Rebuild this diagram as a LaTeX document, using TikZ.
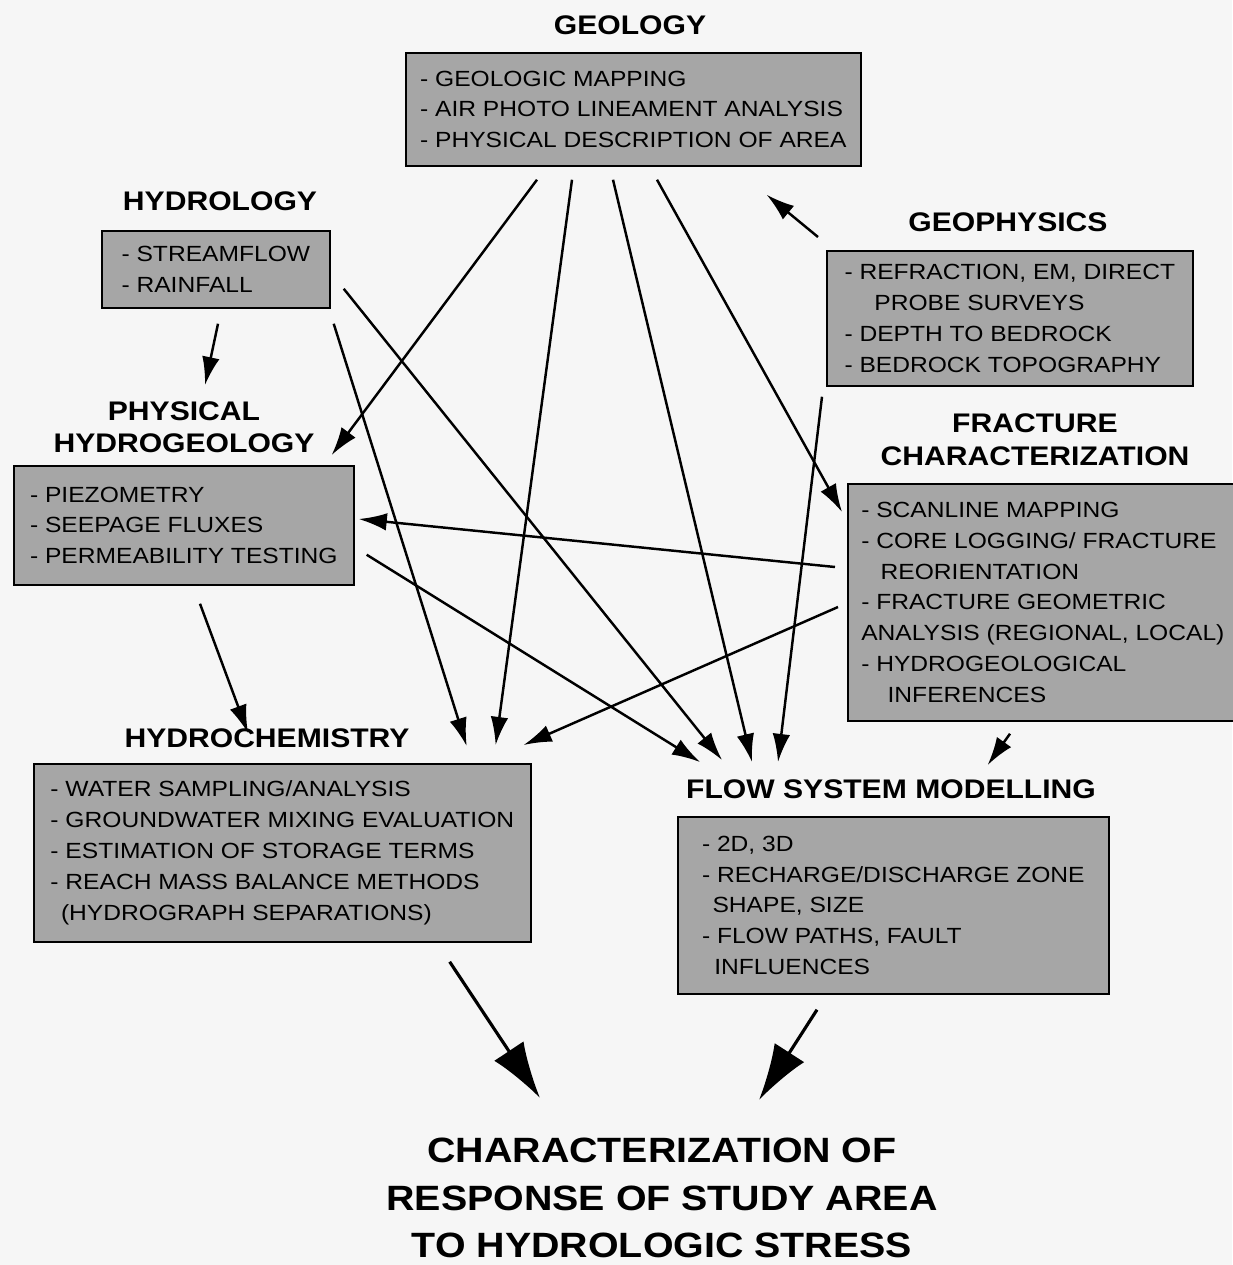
\documentclass[tikz,border=0pt]{standalone}
\usepackage{fontspec}
\setmainfont{Liberation Sans}[FakeStretch=1.12]
\usetikzlibrary{arrows.meta,calc}
\definecolor{boxgrey}{gray}{0.65}
\definecolor{paper}{gray}{0.965}
\newcommand{\boxfont}{\fontsize{12.5}{17.6}\selectfont}
\newcommand{\headfont}{\fontsize{15.3}{18}\selectfont\bfseries}

\tikzset{
  infobox/.style={draw, line width=1pt, fill=boxgrey, anchor=north west, align=left, font=\boxfont, inner sep=0pt},
  heading/.style={align=center, font=\headfont, inner sep=0pt},
  link/.style={->, line width=1.4pt},
  bigarrow/.style={-{Latex[length=32pt,width=20pt]}, line width=1.8pt}
}

\begin{document}
\begin{tikzpicture}[x=0.02cm, y=-0.02cm, >={Latex[length=16pt,width=10pt]}]%[auto]

\fill [paper] (0,0) rectangle (1232,1265);
\useasboundingbox (0,0) rectangle (1232,1265);

\node [heading] (geoT) at (630,25) {GEOLOGY};
\node [infobox, minimum width=9.10cm, minimum height=2.26cm] (geo) at (405,52) {
- GEOLOGIC MAPPING\\ - AIR PHOTO LINEAMENT ANALYSIS\\ - PHYSICAL DESCRIPTION OF AREA};

\node [heading] (hydT) at (220,201) {HYDROLOGY};
\node [infobox, minimum width=4.56cm, minimum height=1.54cm] (hyd) at (101,230) {
- STREAMFLOW\\ - RAINFALL};

\node [heading] (gphT) at (1008,222) {GEOPHYSICS};
\node [infobox, minimum width=7.32cm, minimum height=2.70cm] (gph) at (826,250) {
- REFRACTION, EM, DIRECT\\ \hspace*{17pt}PROBE SURVEYS\\ - DEPTH TO BEDROCK\\ - BEDROCK TOPOGRAPHY};

\node [heading] (physT) at (184,427) {PHYSICAL\\ HYDROGEOLOGY};
\node [infobox, minimum width=6.80cm, minimum height=2.38cm] (phys) at (13,465) {
- PIEZOMETRY\\ - SEEPAGE FLUXES\\ - PERMEABILITY TESTING};

\node [heading, font=\fontsize{15.3}{19}\selectfont\bfseries] (fracT) at (1035,440) {FRACTURE\\ CHARACTERIZATION};
\node [infobox, minimum width=7.80cm, minimum height=4.74cm] (frac) at (847,483) {
- SCANLINE MAPPING\\ - CORE LOGGING/ FRACTURE\\ \hspace*{11pt}REORIENTATION\\ - FRACTURE GEOMETRIC\\
ANALYSIS (REGIONAL, LOCAL)\\ - HYDROGEOLOGICAL\\ \hspace*{15pt}INFERENCES};

\node [heading] (chemT) at (267,738) {HYDROCHEMISTRY};
\node [infobox, minimum width=9.94cm, minimum height=3.56cm] (chem) at (33,763) {
- WATER SAMPLING/ANALYSIS\\ - GROUNDWATER MIXING EVALUATION\\ - ESTIMATION OF STORAGE TERMS\\
- REACH MASS BALANCE METHODS\\ \hspace*{6pt}(HYDROGRAPH SEPARATIONS)};

\node [heading] (flowT) at (891,789) {FLOW SYSTEM MODELLING};
\node [infobox, minimum width=8.62cm, minimum height=3.54cm] (flow) at (677,816) {
- 2D, 3D\\ - RECHARGE/DISCHARGE ZONE\\ \hspace*{6pt}SHAPE, SIZE\\ - FLOW PATHS, FAULT\\ \hspace*{7pt}INFLUENCES};

\node [heading, font=\fontsize{20}{27}\selectfont\bfseries] (final) at (662,1198) {
CHARACTERIZATION OF\\ RESPONSE OF STUDY AREA\\ TO HYDROLOGIC STRESS};

% geology
\draw [link] ($(geo.south west)+(132,13)$) -- ($(phys.north east)+(-23,-10)$);
\draw [link] ($(geo.south west)+(167,13)$) -- ($(chem.north east)+(-36,-18)$);
\draw [link] ($(geo.south west)+(208,13)$) -- ($(flow.north west)+(75,-54)$);
\draw [link] ($(geo.south west)+(252,13)$) -- ($(frac.north west)+(-5,29)$);

% geophysics
\draw [link] ($(gph.north west)+(-8,-13)$) -- ($(geo.south east)+(-95,28)$);
\draw [link] ($(gph.south west)+(-4,10)$) -- ($(flow.north west)+(101,-54)$);

% hydrology
\draw [link] ($(hyd.south west)+(117,15)$) -- ($(phys.north west)+(192,-80)$);
\draw [link] ($(hyd.south east)+(3,15)$) -- ($(chem.north east)+(-65,-17)$);
\draw [link] ($(hyd.south east)+(13,-20)$) -- ($(flow.north west)+(45,-56)$);

% fracture characterization
\draw [link] ($(frac.north west)+(-12,84)$) -- ($(phys.north east)+(4,54)$);
\draw [link] ($(frac.north west)+(-9,124)$) -- ($(chem.north east)+(-8,-18)$);
\draw [link] ($(frac.south west)+(163,12)$) -- ($(flow.north east)+(-122,-51)$);

% physical hydrogeology
\draw [link] ($(phys.south west)+(187,18)$) -- ($(chem.north west)+(215,-30)$);
\draw [link] ($(phys.south east)+(12,-31)$) -- ($(flow.north west)+(23,-54)$);

\draw [bigarrow] ($(chem.south east)+(-82,19)$) -- ($(final.center)+(-122,-100)$);
\draw [bigarrow] ($(flow.south west)+(140,15)$) -- ($(final.center)+(97,-98)$);
\end{tikzpicture}
\end{document}
